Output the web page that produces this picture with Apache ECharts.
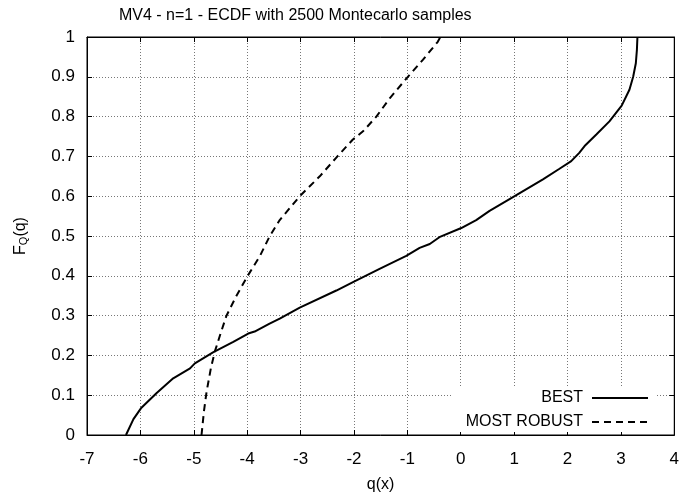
<!DOCTYPE html>
<html>
<head>
<meta charset="utf-8">
<script src="https://cdn.jsdelivr.net/npm/echarts@6/dist/echarts.min.js"></script>
<style>
  html, body { margin: 0; padding: 0; background: #fff; }
  #chart { width: 682px; height: 498px; }
</style>
</head>
<body>
<div id="chart"></div>
<script>
// ECDF curves: q(x) and F_Q(q)
const bestX = [-6.27, -6.13, -5.99, -5.70, -5.385, -5.07, -4.98, -4.64, -4.26, -3.98, -3.86, -3.58, -3.39, -3.015,
  -2.33, -1.99, -1.52, -1.02, -0.77, -0.58, -0.40, 0.01, 0.29, 0.54, 1.01, 1.54, 1.85, 2.07, 2.22, 2.32, 2.54,
  2.785, 3.015, 3.16, 3.23, 3.28, 3.30, 3.31];
const bestY = [0, 0.04, 0.067, 0.105, 0.1425, 0.1675, 0.18, 0.2075, 0.234, 0.255, 0.26, 0.28, 0.2925, 0.32,
  0.363, 0.386, 0.4175, 0.45, 0.47, 0.48, 0.497, 0.52, 0.54, 0.563, 0.60, 0.6425, 0.669, 0.688, 0.709, 0.726, 0.755,
  0.788, 0.8275, 0.8675, 0.90, 0.934, 0.9675, 1.0];

const robustX = [-4.855, -4.81, -4.76, -4.68, -4.605, -4.51, -4.39, -4.20, -3.99, -3.76, -3.58, -3.39, -3.015,
  -2.64, -2.33, -2.02, -1.83, -1.58, -1.33, -0.99, -0.71, -0.43, -0.38];
const robustY = [0, 0.059, 0.109, 0.1675, 0.21, 0.25, 0.299, 0.35, 0.40, 0.45, 0.499, 0.54, 0.60,
  0.65, 0.697, 0.7425, 0.763, 0.80, 0.846, 0.90, 0.9425, 0.988, 1.0];

const seriesNames = ['BEST', 'MOST ROBUST'];
const xTicks = { min: -7, max: 4, interval: 1 };
const yTicks = { min: 0, max: 1, interval: 0.1 };

const font = '"Liberation Sans", Arial, Helvetica, sans-serif';
const zip = (xs, ys) => xs.map((x, i) => [x, ys[i]]);

const chart = echarts.init(document.getElementById('chart'));

const gridLine = { show: true, lineStyle: { color: '#777', type: [1, 2], width: 1 } };
const tick = { show: true, inside: true, length: 5, lineStyle: { color: '#000' } };
const frameLine = { show: true, onZero: false, lineStyle: { color: '#000' } };

chart.setOption({
  animation: false,
  textStyle: { fontFamily: font },
  title: {
    text: 'MV4 - n=1 - ECDF with 2500 Montecarlo samples',
    left: 114,
    top: 3,
    textStyle: { fontFamily: font, fontSize: 16, fontWeight: 'normal', color: '#000' },
  },
  grid: {
    left: 87, right: 7, top: 37, bottom: 61,
    show: true, borderColor: '#000', borderWidth: 1,
  },
  legend: {
    data: seriesNames,
    orient: 'vertical',
    align: 'right',
    right: 26,
    bottom: 66,
    itemWidth: 56,
    itemHeight: 14,
    itemGap: 8,
    padding: [2, 7, 2, 14],
    backgroundColor: '#fff',
    itemStyle: { color: 'rgba(0,0,0,0)', borderWidth: 0 },
    textStyle: { fontFamily: font, fontSize: 16, color: '#000', padding: [0, 4, 0, 0] },
  },
  xAxis: [
    {
      type: 'value',
      ...xTicks,
      name: 'q(x)',
      nameLocation: 'middle',
      nameGap: 42,
      nameTextStyle: { fontFamily: font, fontSize: 16, color: '#000' },
      axisLine: frameLine,
      axisTick: tick,
      axisLabel: { color: '#000', fontSize: 17, fontFamily: font, margin: 16 },
      splitLine: gridLine,
    },
    {
      type: 'value',
      position: 'top',
      ...xTicks,
      axisLine: frameLine,
      axisTick: tick,
      axisLabel: { show: false },
      splitLine: { show: false },
    },
  ],
  yAxis: [
    {
      type: 'value',
      ...yTicks,
      name: 'F{sub|Q}(q)',
      nameLocation: 'middle',
      nameRotate: 90,
      nameGap: 58,
      nameTextStyle: {
        fontFamily: font, fontSize: 16, color: '#000',
        rich: { sub: { fontFamily: font, fontSize: 11, color: '#000', verticalAlign: 'bottom', padding: [6, 0, 0, 0] } },
      },
      axisLine: frameLine,
      axisTick: tick,
      axisLabel: { color: '#000', fontSize: 17, fontFamily: font, margin: 12 },
      splitLine: gridLine,
    },
    {
      type: 'value',
      position: 'right',
      ...yTicks,
      axisLine: frameLine,
      axisTick: tick,
      axisLabel: { show: false },
      splitLine: { show: false },
    },
  ],
  series: [
    {
      name: seriesNames[0],
      type: 'line',
      xAxisIndex: 0,
      yAxisIndex: 0,
      data: zip(bestX, bestY),
      showSymbol: false,
      symbol: 'none',
      lineStyle: { color: '#000', width: 2 },
      itemStyle: { color: '#000' },
    },
    {
      name: seriesNames[1],
      type: 'line',
      xAxisIndex: 0,
      yAxisIndex: 0,
      data: zip(robustX, robustY),
      showSymbol: false,
      symbol: 'none',
      lineStyle: { color: '#000', width: 2, type: [7, 5] },
      itemStyle: { color: '#000' },
    },
  ],
});
</script>
</body>
</html>
